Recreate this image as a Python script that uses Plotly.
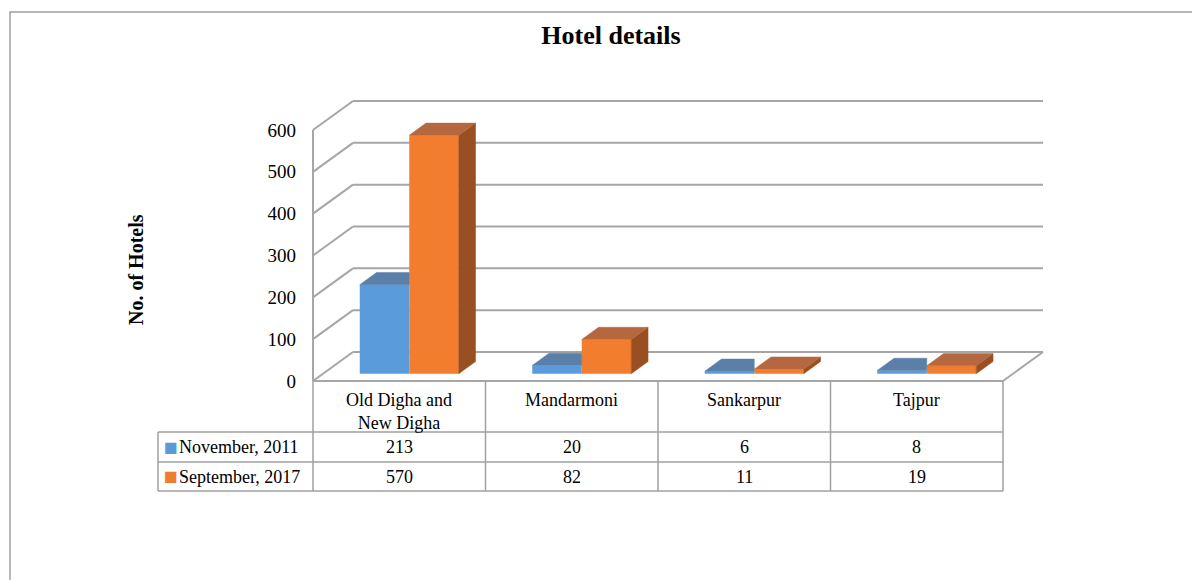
import plotly.graph_objects as go

# ---------------- data ----------------
categories = ["Old Digha and New Digha", "Mandarmoni", "Sankarpur", "Tajpur"]
header_labels = ["Old Digha and<br>New Digha", "Mandarmoni", "Sankarpur", "Tajpur"]
series_names = ["November, 2011", "September, 2017"]
nov_2011 = [213, 20, 6, 8]
sep_2017 = [570, 82, 11, 19]
y_ticks = [0, 100, 200, 300, 400, 500, 600]

# ---------------- styling / geometry ----------------
FONT = "Liberation Serif, Times New Roman, serif"
W, H = 1200, 580
M = 8                      # page body margin (px)
CAT_PX = 172.5             # px per category
PX_PER_UNIT = 251 / 600    # px per value unit
X_LEFT_PX = 313            # left of front plot (page px)
Y_ZERO_PX = 381            # front zero line (page px from top)

def xu(px):   # page pixel -> x data units
    return (px - X_LEFT_PX) / CAT_PX - 0.5

def yu(py):   # page pixel (from top) -> y data units
    return (Y_ZERO_PX - py) / PX_PER_UNIT

def paper_x(px):
    return (px - M) / W

def paper_y(py):
    return 1 - (py - M) / H

DX = 40 / CAT_PX           # wall depth in x units
DY = 29 / PX_PER_UNIT      # wall depth in y units
F0 = 0.25                  # bar depth start (fraction of wall depth)
FD = 0.42                  # bar depth (fraction of wall depth)
BW = 49.5 / CAT_PX         # bar width
b_dx, b_dy = FD * DX, FD * DY
base = F0 * DY
shift = F0 * DX
offsets = [-BW + shift, shift]

key_colors = ["#5b9bd5", "#ed7d31"]
colors = {
    "front": ["#5a9bdb", "#f27d2e"],
    "top": ["#5a7fa8", "#b5683f"],
    "side": ["#3d6791", "#9a4f22"],
}
grid_color = "#a6a6a6"
table_line = "#a0a0a0"
FS_TABLE = 18

n = len(categories)
x_idx = list(range(n))
series_vals = [nov_2011, sep_2017]

fig = go.Figure()

shapes = []
def seg(x0, y0, x1, y1, xref="x", yref="y", color=grid_color, width=2):
    shapes.append(dict(type="line", xref=xref, yref=yref, x0=x0, y0=y0, x1=x1, y1=y1,
                       line=dict(color=color, width=width), layer="below"))

# walls / gridlines / floor
x_front_l = -0.5
x_front_r = n - 0.5
for v in y_ticks:
    seg(x_front_l, v, x_front_l + DX, v + DY)
    seg(x_front_l + DX, v + DY, x_front_r + DX, v + DY)
seg(x_front_l, 0, x_front_l, y_ticks[-1])
seg(x_front_l, 0, x_front_r, 0)
seg(x_front_r, 0, x_front_r + DX, DY)

# outer chart frame
shapes.append(dict(type="rect", xref="paper", yref="paper", x0=paper_x(10), x1=1.02,
                   y0=-0.05, y1=paper_y(12), line=dict(color="#a0a0a0", width=1.5),
                   layer="below"))

# ---------------- bars ----------------
for s, vals in enumerate(series_vals):
    fig.add_trace(go.Bar(
        x=x_idx, y=vals, base=[base] * n, offset=offsets[s], width=BW,
        marker=dict(color=colors["front"][s], line=dict(width=0)),
        name=series_names[s], showlegend=False, hoverinfo="skip"))

for s, vals in enumerate(series_vals):
    tx, ty, sx, sy = [], [], [], []
    for i, v in enumerate(vals):
        xl = i + offsets[s]
        xr = xl + BW
        t = base + v
        if s == 0:
            tx += [xl, xl + b_dx, xr, xr, xl, None]
            ty += [t, t + b_dy, t + b_dy, t, t, None]
        else:
            tx += [xl, xl + b_dx, xr + b_dx, xr, xl, None]
            ty += [t, t + b_dy, t + b_dy, t, t, None]
            sx += [xr, xr + b_dx, xr + b_dx, xr, xr, None]
            sy += [base, base + b_dy, t + b_dy, t, base, None]
    if sx:
        fig.add_trace(go.Scatter(x=sx, y=sy, mode="lines", fill="toself",
                                 fillcolor=colors["side"][s],
                                 line=dict(color=colors["side"][s], width=0.5),
                                 showlegend=False, hoverinfo="skip"))
    fig.add_trace(go.Scatter(x=tx, y=ty, mode="lines", fill="toself",
                             fillcolor=colors["top"][s],
                             line=dict(color=colors["top"][s], width=0.5),
                             showlegend=False, hoverinfo="skip"))

# ---------------- data table (below the axis) ----------------
ROW_TOP, ROW1, ROW2, ROW_BOT = 381, 432, 462, 491
LEG_LEFT = 158
for py in (ROW1, ROW2, ROW_BOT):
    seg(paper_x(LEG_LEFT), paper_y(py), paper_x(X_LEFT_PX), paper_y(py),
        xref="paper", yref="paper", color=table_line, width=1.5)
    seg(x_front_l, paper_y(py), x_front_r, paper_y(py),
        xref="x", yref="paper", color=table_line, width=1.5)
seg(paper_x(LEG_LEFT), paper_y(ROW1), paper_x(LEG_LEFT), paper_y(ROW_BOT),
    xref="paper", yref="paper", color=table_line, width=1.5)
for k in range(n + 1):
    seg(k - 0.5, paper_y(ROW_TOP), k - 0.5, paper_y(ROW_BOT),
        xref="x", yref="paper", color=table_line, width=1.5)

annotations = []
tfont = dict(family=FONT, size=FS_TABLE, color="black")
for i, lab in enumerate(header_labels):
    annotations.append(dict(text=lab, x=i, y=paper_y(388), xref="x", yref="paper",
                            xanchor="center", yanchor="top", showarrow=False,
                            align="center", font=tfont))
row_centers = [(ROW1 + ROW2) / 2, (ROW2 + ROW_BOT) / 2]
for s, vals in enumerate(series_vals):
    yc = paper_y(row_centers[s])
    for i, v in enumerate(vals):
        annotations.append(dict(text=str(v), x=i, y=yc, xref="x", yref="paper",
                                xanchor="center", yanchor="middle", showarrow=False,
                                font=tfont))
    annotations.append(dict(text="■", x=paper_x(171), y=yc, xref="paper", yref="paper",
                            xanchor="center", yanchor="middle", showarrow=False,
                            font=dict(family=FONT, size=23, color=key_colors[s])))
    annotations.append(dict(text=series_names[s], x=paper_x(177), y=yc, xref="paper",
                            yref="paper", xanchor="left", yanchor="middle",
                            showarrow=False, font=tfont))

annotations.append(dict(text="<b>No. of Hotels</b>", x=paper_x(136), y=paper_y(270),
                        xref="paper", yref="paper", showarrow=False, textangle=-90,
                        xanchor="center", yanchor="middle",
                        font=dict(family=FONT, size=20, color="black")))

fig.update_layout(
    width=W, height=H, autosize=False,
    margin=dict(l=0, r=0, t=0, b=0, pad=0),
    paper_bgcolor="white", plot_bgcolor="white",
    barmode="overlay",
    showlegend=False,
    shapes=shapes,
    annotations=annotations,
    title=dict(text="<b>Hotel details</b>", x=paper_x(611), y=paper_y(35),
               xanchor="center", yanchor="middle",
               font=dict(family=FONT, size=26, color="black")),
    xaxis=dict(range=[xu(M), xu(M + W)], visible=False, fixedrange=True, domain=[0, 1]),
    yaxis=dict(range=[yu(M + H), yu(M)], anchor="free", position=paper_x(X_LEFT_PX),
               tickvals=y_ticks, ticktext=[str(v) for v in y_ticks],
               showgrid=False, zeroline=False, showline=False, ticks="",
               ticklabelstandoff=17, fixedrange=True,
               tickfont=dict(family=FONT, size=19, color="black")),
)

fig.write_html("out.html")
